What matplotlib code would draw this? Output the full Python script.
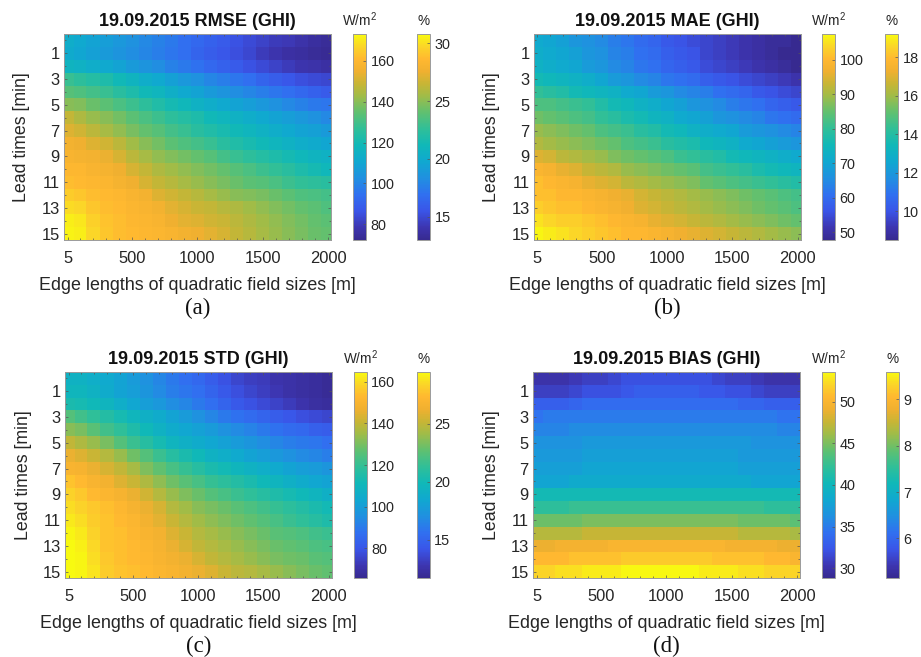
#!/usr/bin/env python3
"""Error heat maps of GHI forecasts for 19.09.2015 (RMSE, MAE, STD, BIAS)."""

import matplotlib
matplotlib.use("Agg")
import matplotlib.pyplot as plt
import numpy as np
from matplotlib.cm import ScalarMappable
from matplotlib.colors import LinearSegmentedColormap, Normalize
from matplotlib.ticker import FixedLocator

field_sizes = [5, 100, 200, 300, 400, 500, 600, 700, 800, 900, 1000,
               1100, 1200, 1300, 1400, 1500, 1600, 1700, 1800, 1900, 2000]
lead_times = list(range(16))
x_ticks = [5, 500, 1000, 1500, 2000]
y_ticks = [1, 3, 5, 7, 9, 11, 13, 15]

rmse = [
    [113, 111, 109, 107, 105, 103, 101, 99, 97, 94, 92, 90, 88, 86, 84, 82, 80, 79, 77, 75, 74],
    [112, 110, 108, 106, 104, 102, 100, 98, 96, 94, 91, 89, 87, 85, 83, 80, 78, 76, 75, 74, 73],
    [116, 115, 113, 111, 109, 106, 104, 102, 99, 97, 95, 92, 90, 88, 86, 84, 82, 80, 78, 77, 76],
    [128, 126, 124, 122, 119, 116, 113, 111, 108, 105, 103, 100, 98, 96, 94, 91, 89, 87, 85, 84, 83],
    [133, 132, 130, 128, 125, 122, 119, 117, 114, 111, 109, 106, 104, 102, 100, 98, 96, 94, 92, 90, 88],
    [140, 139, 136, 134, 131, 129, 126, 123, 120, 118, 115, 113, 111, 109, 107, 105, 103, 101, 99, 97, 96],
    [148, 145, 142, 140, 137, 134, 131, 129, 126, 124, 122, 119, 117, 115, 113, 111, 109, 107, 105, 103, 101],
    [152, 150, 147, 144, 141, 138, 135, 133, 130, 128, 125, 123, 121, 119, 117, 115, 113, 111, 109, 108, 106],
    [156, 155, 152, 150, 147, 143, 140, 137, 134, 132, 130, 128, 125, 123, 121, 119, 117, 115, 113, 112, 110],
    [158, 157, 156, 154, 151, 147, 144, 141, 139, 137, 135, 133, 130, 128, 126, 124, 122, 120, 118, 116, 115],
    [160, 160, 158, 157, 155, 151, 148, 145, 143, 141, 139, 137, 135, 133, 131, 129, 127, 125, 122, 120, 118],
    [162, 161, 160, 159, 157, 155, 151, 148, 146, 144, 142, 140, 138, 136, 134, 133, 131, 129, 127, 126, 125],
    [165, 164, 162, 161, 160, 158, 156, 152, 150, 148, 146, 144, 142, 140, 139, 138, 136, 134, 132, 131, 130],
    [168, 167, 164, 162, 161, 159, 158, 156, 153, 151, 149, 148, 146, 145, 143, 141, 139, 137, 135, 134, 132],
    [171, 170, 166, 163, 162, 160, 159, 158, 155, 153, 152, 150, 149, 147, 145, 143, 141, 139, 137, 135, 134],
    [172, 171, 167, 164, 162, 161, 160, 159, 158, 156, 155, 153, 151, 148, 146, 144, 142, 140, 138, 136, 135],
]

mae = [
    [71, 70, 69, 67, 66, 65, 63, 62, 60, 59, 57, 56, 55, 54, 53, 52, 51, 50, 49, 49, 48],
    [72, 71, 70, 69, 67, 66, 64, 63, 61, 60, 58, 57, 56, 54, 53, 52, 51, 50, 49, 48, 48],
    [73, 72, 71, 70, 68, 67, 65, 64, 62, 61, 59, 58, 57, 55, 54, 53, 52, 51, 50, 49, 48],
    [76, 75, 74, 73, 72, 70, 68, 67, 65, 64, 62, 61, 60, 58, 57, 56, 55, 54, 53, 52, 51],
    [80, 79, 78, 76, 75, 74, 73, 71, 70, 68, 67, 65, 64, 63, 61, 60, 59, 57, 56, 55, 54],
    [83, 83, 82, 81, 80, 78, 76, 75, 73, 72, 70, 69, 67, 66, 65, 63, 62, 61, 59, 58, 57],
    [86, 85, 84, 83, 82, 80, 79, 77, 76, 74, 73, 71, 70, 69, 67, 66, 65, 64, 62, 61, 60],
    [89, 88, 87, 86, 85, 83, 82, 81, 79, 78, 76, 75, 73, 72, 71, 70, 68, 67, 66, 65, 64],
    [91, 90, 89, 88, 87, 86, 85, 83, 82, 81, 79, 78, 77, 75, 74, 73, 71, 70, 69, 68, 67],
    [95, 94, 92, 91, 90, 89, 87, 86, 85, 84, 83, 81, 80, 79, 78, 76, 75, 74, 73, 72, 71],
    [99, 98, 96, 95, 93, 92, 91, 89, 88, 87, 86, 85, 84, 82, 81, 80, 79, 77, 76, 75, 74],
    [101, 100, 99, 98, 96, 95, 94, 92, 91, 90, 89, 88, 87, 85, 84, 83, 82, 81, 80, 79, 78],
    [101, 101, 100, 100, 99, 98, 97, 96, 94, 93, 92, 91, 90, 89, 88, 87, 86, 85, 84, 83, 82],
    [103, 102, 101, 101, 100, 99, 98, 97, 95, 94, 93, 92, 91, 90, 89, 88, 87, 86, 85, 84, 83],
    [105, 104, 103, 103, 102, 101, 100, 99, 98, 96, 95, 94, 93, 92, 91, 90, 89, 88, 87, 86, 85],
    [107, 106, 105, 104, 103, 102, 101, 100, 100, 99, 98, 97, 96, 95, 94, 93, 92, 91, 90, 89, 88],
]

std = [
    [108, 108, 106, 104, 102, 99, 96, 93, 90, 87, 85, 82, 79, 76, 74, 73, 71, 70, 69, 68, 67],
    [110, 110, 108, 105, 102, 100, 97, 94, 91, 89, 87, 84, 81, 78, 76, 74, 72, 70, 69, 68, 67],
    [114, 113, 111, 109, 106, 103, 100, 98, 95, 93, 90, 87, 84, 81, 79, 77, 75, 73, 71, 69, 68],
    [125, 122, 119, 116, 113, 110, 107, 105, 102, 99, 96, 93, 90, 88, 86, 84, 82, 80, 78, 77, 76],
    [132, 130, 126, 122, 119, 115, 111, 108, 105, 103, 101, 99, 96, 94, 92, 90, 88, 86, 85, 83, 82],
    [140, 137, 134, 130, 125, 121, 117, 113, 109, 107, 105, 103, 101, 99, 97, 95, 93, 91, 90, 89, 87],
    [146, 144, 141, 138, 134, 129, 125, 121, 117, 114, 111, 108, 106, 104, 102, 100, 98, 96, 94, 93, 91],
    [150, 149, 146, 143, 140, 136, 131, 127, 123, 120, 117, 114, 112, 110, 108, 106, 104, 102, 100, 99, 97],
    [155, 153, 150, 148, 144, 141, 137, 133, 129, 126, 123, 120, 118, 116, 114, 111, 109, 107, 105, 103, 102],
    [158, 156, 153, 151, 149, 146, 142, 138, 134, 131, 128, 125, 123, 121, 119, 117, 115, 113, 111, 109, 107],
    [160, 158, 156, 154, 152, 149, 146, 143, 138, 135, 132, 130, 128, 126, 124, 122, 120, 118, 116, 114, 112],
    [162, 160, 157, 155, 153, 151, 148, 145, 141, 138, 135, 133, 131, 129, 127, 125, 123, 121, 119, 117, 115],
    [164, 162, 158, 155, 154, 152, 150, 148, 144, 141, 138, 136, 134, 132, 130, 128, 126, 125, 124, 122, 121],
    [165, 163, 159, 155, 154, 153, 151, 149, 146, 143, 140, 138, 136, 134, 132, 130, 128, 127, 126, 124, 123],
    [165, 164, 160, 156, 154, 153, 152, 150, 148, 146, 143, 140, 138, 136, 134, 132, 130, 129, 128, 126, 125],
    [165, 164, 161, 157, 155, 154, 153, 151, 150, 148, 146, 144, 141, 139, 138, 136, 134, 132, 130, 128, 127],
]

bias = [
    [30, 30, 30, 30.5, 31, 31, 31.5, 32, 32, 32, 32, 32, 32, 32, 31.5, 31, 31, 30.5, 30, 30, 30],
    [31, 31, 31, 31.5, 32, 32, 32, 32.5, 33, 33, 33, 33, 33, 32.5, 32.5, 32, 32, 31.5, 31, 31, 31],
    [33, 33, 33, 33.5, 34, 34, 34, 34, 34, 34, 34, 34, 34, 34, 34, 34, 33.5, 33.5, 33, 33, 33],
    [34.5, 35, 35, 35, 35, 35, 35, 35, 35, 35, 35, 35, 35, 35, 35, 35, 35, 35, 35, 34.5, 34.5],
    [35.5, 35.5, 35.5, 36, 36, 36, 36, 36, 36, 36, 36, 36, 36, 36, 36, 36, 36, 36, 36, 35.5, 35.5],
    [36.5, 36.5, 36.5, 36.5, 37, 37, 37, 37, 37, 37, 37, 37, 37, 37, 37, 37, 37, 36.5, 36.5, 36.5, 36.5],
    [37, 37, 37, 37, 37.5, 37.5, 37.5, 37.5, 37.5, 37.5, 37.5, 37.5, 37.5, 37.5, 37.5, 37.5, 37, 37, 37, 37, 37],
    [37.5, 37.5, 37.5, 37.5, 38, 38, 38, 38, 38, 38, 38, 38, 38, 38, 38, 38, 37.5, 37.5, 37.5, 37.5, 37.5],
    [38, 38, 38, 38.5, 38.5, 38.5, 38.5, 38.5, 38.5, 38.5, 38.5, 38.5, 38.5, 38.5, 38.5, 38.5, 38.5, 38, 38, 38, 38],
    [40.5, 40.5, 40.5, 40.5, 40.5, 40.5, 40.5, 40.5, 40.5, 40.5, 40.5, 40.5, 40.5, 40.5, 40.5, 40.5, 40.5, 40.5, 40.5, 40.5, 40.5],
    [42, 42, 42, 42.5, 42.5, 42.5, 42.5, 42.5, 42.5, 42.5, 42.5, 42.5, 42.5, 42.5, 42.5, 42.5, 42.5, 42.5, 42, 42, 42],
    [44.5, 44.5, 44.5, 44.5, 45, 45, 45, 45, 45, 45, 45, 45, 45, 45, 45, 45, 44.5, 44.5, 44.5, 44.5, 44],
    [47, 47, 47, 47, 47.5, 47.5, 47.5, 47.5, 47.5, 47.5, 47.5, 47.5, 47.5, 47.5, 47.5, 47.5, 47, 47, 47, 47, 46.5],
    [49, 49, 49.5, 49.5, 49.5, 49.5, 50, 50, 50, 50, 50, 50, 50, 50, 50, 49.5, 49.5, 49.5, 49.5, 49, 49],
    [50.5, 50.5, 50.5, 51, 51, 51, 51, 51.5, 51.5, 51.5, 51.5, 51.5, 51.5, 51.5, 51, 51, 51, 51, 50.5, 50.5, 50],
    [52, 52, 52.5, 52.5, 53, 53, 53, 53.5, 53.5, 53.5, 53.5, 53.5, 53.5, 53, 53, 53, 52.5, 52.5, 52, 52, 52],
]

titles = ["RMSE", "MAE", "STD", "BIAS"]
tables = [rmse, mae, std, bias]
letters = ["(a)", "(b)", "(c)", "(d)"]

# colour limits of the two bars beside each panel
abs_limits = [(72.2, 173.2), (47.8, 107.5), (65.6, 164.8), (28.8, 53.6)]
rel_limits = [(13.0, 30.8), (8.5, 19.2), (11.7, 29.5), (5.14, 9.6)]
abs_ticks = [[80, 100, 120, 140, 160], [50, 60, 70, 80, 90, 100],
             [80, 100, 120, 140, 160], [30, 35, 40, 45, 50]]
rel_ticks = [[15, 20, 25, 30], [10, 12, 14, 16, 18], [15, 20, 25], [6, 7, 8, 9]]

# parula as it looks in the scanned colour bars
cmap_stops = [0.00, 0.06, 0.14, 0.22, 0.30, 0.38, 0.46, 0.54, 0.62, 0.70, 0.76, 0.82, 0.88, 0.94, 1.00]
cmap_colors = ["#372a90", "#3d35b0", "#3a55e8", "#3070f0", "#2090e0", "#10a8d0", "#10b8b8", "#30bf98",
               "#60c070", "#a0bc48", "#c8b535", "#f0b030", "#ffb830", "#fbd528", "#f8fa10"]
parula = LinearSegmentedColormap.from_list("parula", list(zip(cmap_stops, cmap_colors)), N=256)

W, H = 921, 657
EDGE = "#9a9a9a"
TEXT = "#262626"

plt.rcParams["font.family"] = ["Liberation Sans", "DejaVu Sans"]
plt.rcParams["mathtext.default"] = "regular"


def box(x0, x1, y0, y1):
    """Axes rectangle from pixel edges, y counted from the top."""
    return [x0 / W, 1 - y1 / H, (x1 - x0) / W, (y1 - y0) / H]


def draw_bar(fig, rect, limits, ticks):
    cax = fig.add_axes(rect)
    sm = ScalarMappable(Normalize(*limits), parula)
    cb = fig.colorbar(sm, cax=cax)
    cb.set_ticks(ticks)
    cb.ax.tick_params(direction="in", length=2.5, width=0.5, color="#555555",
                      labelsize=10.4, labelcolor=TEXT, pad=3.2)
    cb.outline.set_edgecolor(EDGE)
    cb.outline.set_linewidth(0.7)


def draw_panel(fig, idx, ax_px, cb1_px, cb2_px):
    x0, x1, y0, y1 = ax_px
    ax = fig.add_axes(box(x0, x1, y0, y1))
    data = np.array(tables[idx])
    ax.pcolormesh(field_sizes, lead_times, data, cmap=parula, shading="nearest",
                  vmin=abs_limits[idx][0], vmax=abs_limits[idx][1], antialiased=False)
    ax.set_xlim(-22, 2023)
    ax.set_ylim(15.5, -0.5)
    ax.set_xticks(x_ticks)
    ax.set_yticks(y_ticks)
    ax.xaxis.set_minor_locator(FixedLocator(field_sizes))
    ax.yaxis.set_minor_locator(FixedLocator(lead_times))
    ax.tick_params(which="both", direction="in", top=True, right=True, color="#555555", width=0.5)
    ax.tick_params(which="major", length=2.5, labelsize=11.9, labelcolor=TEXT)
    ax.tick_params(which="minor", length=1.5)
    ax.tick_params(axis="x", which="major", pad=8)
    ax.tick_params(axis="y", which="major", pad=3)
    for spine in ax.spines.values():
        spine.set_edgecolor(EDGE)
        spine.set_linewidth(0.7)

    cx = (x0 + x1) / 2
    fig.text(cx / W, 1 - (y0 - 12.5) / H, f"19.09.2015 {titles[idx]} (GHI)", ha="center", va="center",
             fontsize=13, fontweight="bold", color="#111111")
    fig.text(cx / W, 1 - (y1 + 45) / H, "Edge lengths of quadratic field sizes [m]", ha="center",
             va="center", fontsize=12.9, color=TEXT)
    fig.text(cx / W, 1 - (y1 + 68) / H, letters[idx], ha="center", va="center", fontsize=16.5,
             family="Liberation Serif", color="#111111")
    fig.text((x0 - 42) / W, 1 - (y0 + y1) / 2 / H, "Lead times [min]", rotation=90, ha="center",
             va="center", fontsize=12.8, color=TEXT)

    draw_bar(fig, box(cb1_px[0], cb1_px[1], y0, y1), abs_limits[idx], abs_ticks[idx])
    draw_bar(fig, box(cb2_px[0], cb2_px[1], y0, y1), rel_limits[idx], rel_ticks[idx])
    fig.text((cb1_px[0] + cb1_px[1]) / 2 / W, 1 - (y0 - 14) / H, "W/m$^{2}$", ha="center", va="center",
             fontsize=9.8, color=TEXT)
    fig.text((cb2_px[0] + cb2_px[1]) / 2 / W, 1 - (y0 - 13) / H, "%", ha="center", va="center",
             fontsize=9.8, color=TEXT)


def main():
    fig = plt.figure(figsize=(W / 100, H / 100), dpi=100)
    draw_panel(fig, 0, (64, 331, 34, 240), (353, 366, 0), (417, 430, 0))
    draw_panel(fig, 1, (533.7, 800.7, 34, 240), (822, 835.3, 0), (885.3, 898.3, 0))
    draw_panel(fig, 2, (65, 331.7, 371.7, 578.3), (353.7, 366.7, 0), (417, 429.7, 0))
    draw_panel(fig, 3, (533, 800, 371.7, 578.3), (822, 835, 0), (886, 899, 0))
    fig.savefig("out.png", dpi=100)


if __name__ == "__main__":
    main()
